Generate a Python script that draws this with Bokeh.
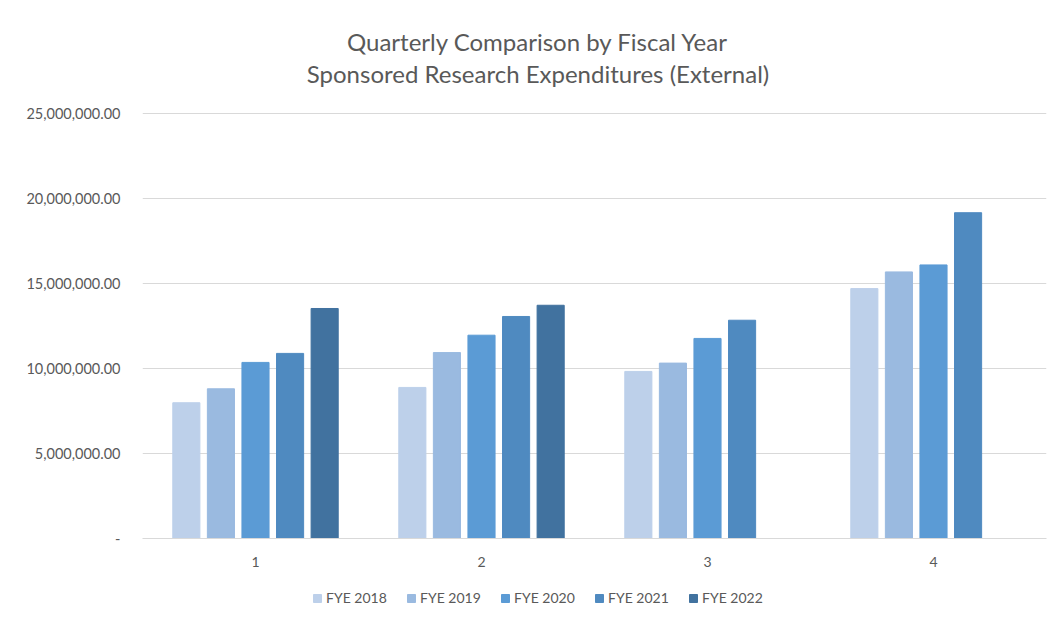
from bokeh.plotting import figure
from bokeh.models import ColumnDataSource, FactorRange, Legend, LegendItem, FixedTicker, Range1d
from bokeh.layouts import column
from bokeh.transform import dodge
from bokeh.embed import file_html
from bokeh.resources import INLINE
from bokeh.core.properties import value
import math

quarters = ["1", "2", "3", "4"]
series = ["FYE 2018", "FYE 2019", "FYE 2020", "FYE 2021", "FYE 2022"]
fye2018 = [7980000, 8880000, 9820000, 14690000]
fye2019 = [8800000, 10930000, 10310000, 15670000]
fye2020 = [10350000, 11950000, 11760000, 16080000]
fye2021 = [10880000, 13050000, 12830000, 19150000]
fye2022 = [13520000, 13710000, math.nan, math.nan]
colors = ["#BDD0EA", "#9ABAE0", "#5B9BD5", "#4F8AC0", "#41729F"]
y_ticks = [0, 5000000, 10000000, 15000000, 20000000, 25000000]
y_tick_labels = ["-", "5,000,000.00", "10,000,000.00", "15,000,000.00", "20,000,000.00", "25,000,000.00"]
title_lines = ["Quarterly Comparison by Fiscal Year", "Sponsored Research Expenditures (External)"]

values = [fye2018, fye2019, fye2020, fye2021, fye2022]
data = {"q": quarters}
for name, vals in zip(series, values):
    data[name] = vals
source = ColumnDataSource(data)

FONT = "Lato"
GREY = "#595959"
FW = 904          # frame width shared by all strips
LEFT, RIGHT = 142, 5


def strip(h):
    f = figure(frame_width=FW, frame_height=h, x_range=Range1d(0, FW), y_range=Range1d(0, h),
               output_backend="svg", toolbar_location=None, title=None,
               x_axis_location=None, y_axis_location=None,
               min_border_left=LEFT, min_border_right=RIGHT, min_border_top=0, min_border_bottom=0)
    f.outline_line_color = None
    f.grid.visible = False
    f.border_fill_color = "white"
    f.background_fill_color = "white"
    return f


# title strip
tf = strip(100)
tf.text(x=[395.5, 395.5], y=[59, 27], text=title_lines, text_align="center",
        text_baseline="middle", text_font=value(FONT), text_font_size="24px", text_color=GREY)

# main chart
p = figure(x_range=FactorRange(*quarters), y_range=(0, 25040000),
           frame_width=FW, frame_height=426, output_backend="svg", toolbar_location=None,
           title=None,
           min_border_left=LEFT, min_border_right=RIGHT, min_border_top=12, min_border_bottom=0)
p.outline_line_color = None
p.background_fill_color = "white"
p.border_fill_color = "white"

step = 0.153
width = 0.12
for i, (name, col) in enumerate(zip(series, colors)):
    p.vbar(x=dodge("q", (i - 2) * step, range=p.x_range), top=name, width=width,
           source=source, fill_color=col, line_color=col)

p.yaxis.ticker = FixedTicker(ticks=y_ticks)
p.yaxis.major_label_overrides = {t: l for t, l in zip(y_ticks, y_tick_labels)}
p.yaxis.axis_line_color = None
p.yaxis.major_tick_line_color = None
p.yaxis.minor_tick_line_color = None
p.yaxis.major_label_standoff = 16
p.yaxis.major_label_text_font = FONT
p.yaxis.major_label_text_font_size = "14.5px"
p.yaxis.major_label_text_color = GREY

p.xaxis.axis_line_color = "#d9d9d9"
p.xaxis.major_tick_line_color = None
p.xaxis.minor_tick_line_color = None
p.xaxis.major_label_standoff = 12
p.xaxis.major_label_text_font = FONT
p.xaxis.major_label_text_font_size = "14px"
p.xaxis.major_label_text_color = GREY

p.xgrid.grid_line_color = None
p.ygrid.grid_line_color = "#d9d9d9"

# legend strip
lg = strip(50)
items = []
for name, col in zip(series, colors):
    r = lg.vbar(x=[-100], top=[-100], bottom=[-200], width=1, fill_color=col, line_color=col)
    items.append(LegendItem(label=name, renderers=[r]))
legend = Legend(items=items, orientation="horizontal", location=(170, 13),
                label_text_font=FONT, label_text_font_size="14px", label_text_color=GREY,
                glyph_width=10, glyph_height=10, label_width=63, label_standoff=4, spacing=17,
                padding=5, margin=0, border_line_color=None, background_fill_alpha=0)
lg.add_layout(legend, "center")

layout = column(tf, p, lg, spacing=0)
open("out.html", "w").write(file_html(layout, INLINE))
